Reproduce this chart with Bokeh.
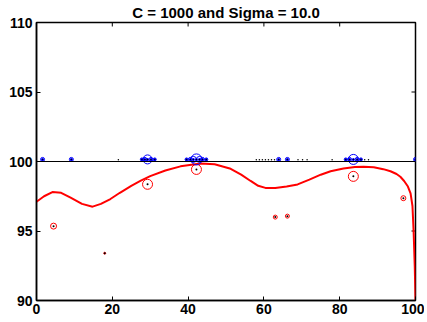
from bokeh.plotting import figure
from bokeh.models import Range1d, FixedTicker, Span
from bokeh.embed import file_html
from bokeh.resources import INLINE

# Fitted decision curve
curve_x = [0, 2, 4.2, 6.5, 9, 12, 14.8, 17, 19.5, 22, 25, 27.4, 30, 34, 38, 43.3, 47, 51, 54, 56.5, 58.5, 60.4, 63, 66, 68.9, 72, 75, 77.6, 81, 84, 86.3, 89, 91.5, 93.4, 95, 96, 97, 98, 98.7, 99.2, 99.5, 99.8, 100]
curve_y = [97.1, 97.5, 97.8, 97.75, 97.4, 96.95, 96.75, 96.95, 97.3, 97.75, 98.25, 98.6, 98.95, 99.35, 99.65, 99.85, 99.8, 99.5, 99.05, 98.6, 98.25, 98.1, 98.1, 98.2, 98.35, 98.7, 99.05, 99.3, 99.5, 99.6, 99.62, 99.58, 99.45, 99.3, 99.1, 98.9, 98.6, 98.2, 97.7, 96.8, 95.0, 92.5, 90.0]

# Red points (below line)
red_x = [4.5, 18.0, 29.3, 42.2, 63.0, 66.2, 83.6, 96.8]
red_y = [95.35, 93.4, 98.36, 99.43, 96.0, 96.07, 98.93, 97.36]
red_size = [6, 2, 10, 10, 4, 4, 10, 5]

# Blue points (on line)
blue_x = [1.6, 9.2, 27.8, 28.6, 29.3, 30.2, 31.2, 39.6, 40.6, 41.4, 42.2, 43.0, 43.8, 44.8, 63.9, 66.2, 81.6, 82.6, 83.6, 84.6, 85.6, 100.0]
blue_y = [100.15] * len(blue_x)
blue_size = [4, 4, 3, 4, 9, 4, 3, 3, 4, 6, 11, 6, 4, 3, 4, 4, 3, 4, 10, 4, 3, 4]

# Tiny black points near the line
dot_x = [21.6, 58.0, 58.8, 59.6, 60.4, 61.2, 62.0, 62.8, 69.0, 70.2, 71.4, 78.0, 86.6, 87.6]
dot_y = [100.12] * len(dot_x)

title = "C = 1000 and Sigma = 10.0"
x_ticks = [0, 20, 40, 60, 80, 100]
y_ticks = [90, 95, 100, 105, 110]

XMIN, XMAX, YMIN, YMAX = 0, 100, 90, 110
W, H = 424, 320
BL, BR, BB = 36, 9, 20

p = figure(width=W, height=H, output_backend="svg", toolbar_location=None,
           x_range=Range1d(XMIN, XMAX), y_range=Range1d(YMIN, YMAX),
           min_border_left=BL, min_border_right=BR, min_border_top=0, min_border_bottom=BB)
p.title.text = title
p.title.align = "center"
p.title.text_font = "Liberation Sans"
p.title.text_font_size = "15px"
p.title.text_font_style = "bold"
p.title.text_color = "black"
p.title.standoff = 3
p.title.offset = 0
p.grid.visible = False
p.outline_line_color = "black"
p.outline_line_width = 1.5
p.background_fill_color = "white"
p.border_fill_color = "white"

for ax in [p.xaxis[0], p.yaxis[0]]:
    ax.major_label_text_font = "Liberation Sans"
    ax.major_label_text_font_size = "14px"
    ax.major_label_text_font_style = "bold"
    ax.major_label_text_color = "black"
    ax.major_tick_in = 4
    ax.major_tick_out = 0
    ax.minor_tick_line_color = None
    ax.axis_line_color = "black"
    ax.axis_line_width = 1.5
p.xaxis[0].ticker = FixedTicker(ticks=x_ticks)
p.yaxis[0].ticker = FixedTicker(ticks=y_ticks)
p.xaxis[0].major_label_standoff = 3
p.yaxis[0].major_label_standoff = 4

# Inward ticks on top and right edges (box style)
frame_w = W - BL - BR
frame_h = H - 21 - BB
tx = 4 * (XMAX - XMIN) / frame_w
ty = 4 * (YMAX - YMIN) / frame_h
p.segment(x0=x_ticks, y0=[YMAX] * len(x_ticks), x1=x_ticks, y1=[YMAX - ty] * len(x_ticks),
          line_color="black", line_width=1)
p.segment(x0=[XMAX] * len(y_ticks), y0=y_ticks, x1=[XMAX - tx] * len(y_ticks), y1=y_ticks,
          line_color="black", line_width=1)

p.add_layout(Span(location=100, dimension="width", line_color="black", line_width=1))

p.line(curve_x, curve_y, line_color="red", line_width=2)

p.scatter(red_x, red_y, size=red_size, fill_color=None, line_color="red", line_width=1)
p.scatter(red_x, red_y, size=2, fill_color="black", line_color=None)

p.scatter(blue_x, blue_y, size=blue_size, fill_color=None, line_color="blue", line_width=1)
p.scatter(blue_x, blue_y, size=3, fill_color="blue", line_color=None)
p.scatter(blue_x, blue_y, size=1.5, fill_color="black", line_color=None)
p.scatter(dot_x, dot_y, size=1.5, fill_color="black", line_color=None)

open("out.html", "w").write(file_html(p, INLINE))
